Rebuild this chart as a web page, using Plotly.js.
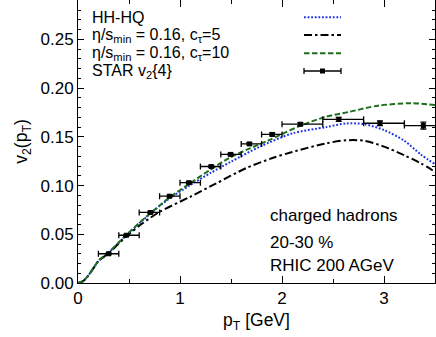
<!DOCTYPE html>
<html>
<head>
<meta charset="utf-8">
<script src="https://cdn.plot.ly/plotly-3.0.1.min.js"></script>
<style>
  html, body { margin: 0; padding: 0; background: #fff; }
  #v2-plot { width: 436px; height: 337px; }
</style>
</head>
<body>
<div id="v2-plot"></div>
<script>
/* HH-HQ (blue dotted) */
const hhPt = [0, 0.05, 0.1, 0.15, 0.2, 0.3, 0.47, 0.63, 0.8, 0.9, 1.1, 1.3, 1.5, 1.78, 2.1, 2.43, 2.63, 2.81, 3.0, 3.2, 3.36, 3.5];
const hhV2 = [0, 0.002, 0.0075, 0.015, 0.0225, 0.031, 0.0485, 0.064, 0.079, 0.087, 0.1005, 0.113, 0.1245, 0.1398, 0.1535, 0.160, 0.1638, 0.163, 0.157, 0.146, 0.132, 0.122];

/* eta/s_min = 0.16, c_tau = 5 (black dash-dot) */
const ct5Pt = [0, 0.05, 0.1, 0.15, 0.2, 0.3, 0.47, 0.63, 0.8, 1.1, 1.35, 1.65, 1.9, 2.1, 2.43, 2.63, 2.81, 3.0, 3.2, 3.36, 3.5];
const ct5V2 = [0, 0.002, 0.0075, 0.015, 0.0225, 0.0305, 0.0475, 0.061, 0.073, 0.0885, 0.102, 0.118, 0.128, 0.1345, 0.1433, 0.1465, 0.146, 0.140, 0.131, 0.123, 0.114];

/* eta/s_min = 0.16, c_tau = 10 (green dashed) */
const ct10Pt = [0, 0.05, 0.1, 0.15, 0.2, 0.3, 0.47, 0.63, 0.8, 0.9, 1.094, 1.29, 1.486, 1.68, 1.86, 2.17, 2.43, 2.66, 2.94, 3.265, 3.5];
const ct10V2 = [0, 0.002, 0.0075, 0.015, 0.0228, 0.0315, 0.049, 0.0645, 0.0795, 0.088, 0.102, 0.1158, 0.1285, 0.138, 0.146, 0.161, 0.1706, 0.1757, 0.182, 0.1846, 0.1826];

/* STAR v2{4} */
const starPt = [0.30, 0.474, 0.71, 0.898, 1.087, 1.306, 1.496, 1.68, 1.904, 2.18, 2.556, 2.96, 3.386];
const starV2 = [0.030, 0.049, 0.0724, 0.0891, 0.103, 0.1196, 0.132, 0.1428, 0.1525, 0.163, 0.168, 0.164, 0.1616];
const starErr = [0.001, 0.001, 0.001, 0.001, 0.001, 0.001, 0.0012, 0.0012, 0.0015, 0.0015, 0.002, 0.0025, 0.0035];
const binLo = [0.2, 0.4, 0.6, 0.8, 1.0, 1.2, 1.4, 1.6, 1.8, 2.0, 2.4, 2.8, 3.2];
const binHi = [0.4, 0.6, 0.8, 1.0, 1.2, 1.4, 1.6, 1.8, 2.0, 2.4, 2.8, 3.2, 3.6];

const legendLabels = ['HH-HQ', 'η/s<sub>min</sub> = 0.16, c<sub>τ</sub>=5', 'η/s<sub>min</sub> = 0.16, c<sub>τ</sub>=10', 'STAR v<sub>2</sub>{4}'];
const noteLines = ['charged hadrons', '20-30 %', 'RHIC 200 AGeV'];

const FONT = 'Liberation Sans, Arial, sans-serif';
const BLUE = '#1c2fe8', BLACK = '#000000', GREEN = '#1e6e1e';
const DOT = '1.8px,1.8px', DASHDOT = '8px,3px,2.5px,3px', DASH = '5.5px,2.5px';

function drawV2Plot() {
  let curve = (x, y, color, dash) => ({
    x: x, y: y, mode: 'lines', type: 'scatter', hoverinfo: 'skip',
    line: { color: color, width: 2, dash: dash, shape: 'spline', smoothing: 0.8 }
  });

  let star = {
    x: starPt, y: starV2, mode: 'markers', type: 'scatter',
    marker: { symbol: 'square', size: 5, color: BLACK },
    error_x: {
      type: 'data', symmetric: false,
      array: starPt.map((p, i) => binHi[i] - p),
      arrayminus: starPt.map((p, i) => p - binLo[i]),
      color: BLACK, thickness: 1.3, width: 3
    },
    error_y: { type: 'data', array: starErr, color: BLACK, thickness: 1.3, width: 3 }
  };

  let data = [curve(hhPt, hhV2, BLUE, DOT), curve(ct5Pt, ct5V2, BLACK, DASHDOT),
              curve(ct10Pt, ct10V2, GREEN, DASH), star];

  /* legend drawn by hand: text left, sample on the right */
  const plotW = 357, plotH = 283;
  const rowY = [17.3, 35, 53.3, 71].map(p => 1 - p / plotH);
  const sx0 = (304 - 78) / plotW, sx1 = (341 - 78) / plotW;
  let annotations = legendLabels.map((t, i) => ({
    text: t, xref: 'paper', yref: 'paper', x: (90 - 78) / plotW, y: rowY[i],
    xanchor: 'left', yanchor: 'middle', showarrow: false,
    font: { family: FONT, size: 16, color: '#000' }
  }));
  const noteY = [215, 242.3, 265.7];
  noteLines.forEach((t, i) => annotations.push({
    text: t, xref: 'paper', yref: 'paper', x: (268 - 78) / plotW, y: 1 - noteY[i] / plotH,
    xanchor: 'left', yanchor: 'middle', showarrow: false,
    font: { family: FONT, size: 17, color: '#000' }
  }));

  let sample = (y, color, dash, w) => ({
    type: 'line', xref: 'paper', yref: 'paper', x0: sx0, x1: sx1, y0: y, y1: y,
    line: { color: color, width: w, dash: dash }
  });
  const capH = 3 / plotH, sqW = 2.5 / plotW, sqH = 2.5 / plotH, sxm = (sx0 + sx1) / 2;
  let shapes = [
    sample(rowY[0], BLUE, DOT, 2),
    sample(rowY[1], BLACK, DASHDOT, 2),
    sample(rowY[2], GREEN, DASH, 2),
    sample(rowY[3], BLACK, 'solid', 1.3),
    { type: 'line', xref: 'paper', yref: 'paper', x0: sx0, x1: sx0, y0: rowY[3] - capH, y1: rowY[3] + capH, line: { color: BLACK, width: 1.3 } },
    { type: 'line', xref: 'paper', yref: 'paper', x0: sx1, x1: sx1, y0: rowY[3] - capH, y1: rowY[3] + capH, line: { color: BLACK, width: 1.3 } },
    { type: 'rect', xref: 'paper', yref: 'paper', x0: sxm - sqW, x1: sxm + sqW, y0: rowY[3] - sqH, y1: rowY[3] + sqH, fillcolor: BLACK, line: { width: 0 } }
  ];

  let layout = {
    width: 436, height: 337,
    margin: { l: 78, r: 1, t: 0, b: 54 },
    paper_bgcolor: '#fff', plot_bgcolor: '#fff',
    showlegend: false,
    font: { family: FONT, size: 17, color: '#000' },
    xaxis: {
      range: [0, 3.5], dtick: 1, ticks: 'inside', ticklen: 7, tickcolor: '#000',
      minor: { dtick: 0.5, ticks: 'inside', ticklen: 4, tickcolor: '#000' },
      showline: true, linecolor: '#000', linewidth: 1, mirror: 'allticks',
      showgrid: false, zeroline: false,
      tickfont: { family: FONT, size: 17 },
      title: { text: 'p<sub>T</sub> [GeV]', font: { family: FONT, size: 17.5 }, standoff: 6 }
    },
    yaxis: {
      range: [0, 0.2905], dtick: 0.05, tickformat: '.2f', ticks: 'inside', ticklen: 6, tickcolor: '#000',
      minor: { dtick: 0.01, ticks: 'inside', ticklen: 3, tickcolor: '#000' },
      showline: true, linecolor: '#000', linewidth: 1, mirror: 'allticks',
      showgrid: false, zeroline: false,
      tickfont: { family: FONT, size: 17 },
      title: { text: 'v<sub>2</sub>(p<sub>T</sub>)', font: { family: FONT, size: 17.5 }, standoff: 8 }
    },
    annotations: annotations,
    shapes: shapes
  };

  Plotly.newPlot('v2-plot', data, layout, { staticPlot: true });
}

window.addEventListener('DOMContentLoaded', drawV2Plot, false);
</script>
</body>
</html>
